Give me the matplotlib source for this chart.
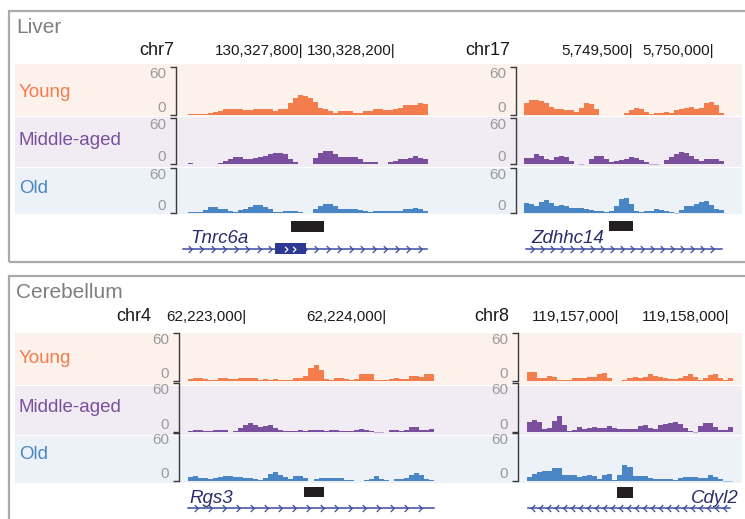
import numpy as np
import matplotlib
matplotlib.use("Agg")
import matplotlib.pyplot as plt
from matplotlib.patches import Rectangle
from matplotlib.path import Path
from matplotlib.transforms import blended_transform_factory

plt.rcParams["font.family"] = ["Liberation Sans", "DejaVu Sans"]

# ---- data -------------------------------------------------------------
ages = ["Young", "Middle-aged", "Old"]

# regions (bp)
chr7_start, chr7_end = 130327296, 130328339
chr17_start, chr17_end = 5748827, 5750062
chr4_start, chr4_end = 62222579, 62224336
chr8_start, chr8_end = 119156164, 119158036

chr7_ticks = [130327800, 130328200]
chr17_ticks = [5749500, 5750000]
chr4_ticks = [62223000, 62224000]
chr8_ticks = [119157000, 119158000]

# coverage (0-60 scale), equal-width bins across each region
liver_chr7_young = [1, 1, 1, 1, 2, 4, 5, 7, 8, 7, 8, 6, 6, 7, 8, 7, 7, 5, 7, 8,
                    15, 21, 25, 24, 21, 16, 9, 8, 5, 3, 5, 5, 5, 3, 3, 5, 5, 7, 7, 6,
                    6, 7, 9, 12, 12, 13, 15, 14]
liver_chr7_middle = [1.5, 0.5, 0.5, 0.5, 0.5, 0.5, 1, 4, 7, 9, 8.5, 6.5, 7, 8, 8.5, 11, 13, 14, 15, 13,
                     7, 2, 0, -0.5, 0, 8, 14, 17, 17, 13, 9, 9, 8.5, 8.5, 6, 3, 2, 2, -0.5, -0.5,
                     2, 4, 7, 7, 8, 11, 8, 7]
liver_chr7_old = [1, 1.7, 1.7, 4.5, 8, 7.5, 6, 5, 3, 1, 4.5, 6, 8, 11, 11, 8, 5, 2, 2, 3.3,
                  3.3, 3.3, 1.7, 0.5, 0.5, 6, 10, 12, 12, 9, 5, 5.5, 5, 5.5, 4, 3, 1.7, 2.5, 2.8, 3.3,
                  3.3, 2.5, 2.5, 5, 6, 6.7, 6, 3]

liver_chr17_young = [15, 18.5, 19, 17.5, 15, 10, 7, 7, 6.7, 6.7, 3.5, 9, 14.5, 13.5, 8, 0.5, 0.5, 0.5, 0.5, 0.5,
                     2, 6, 9, 7.5, 4, 1.5, 3, 3, 4, 3, 6, 7, 9, 10.5, 7.5, 9, 15, 16, 12, 3]
liver_chr17_middle = [8, 8, 12.5, 10, 7, 5, 9, 11, 9.5, 4, 0.5, -0.7, 0, 7, 10, 10, 6, 2.5, 4, 5,
                      7, 9, 8, 5.5, 2, -0.7, -0.7, -0.5, 5, 9.5, 13, 16, 15, 10, 6, 3.5, 6.5, 6.5, 6.5, 4]
liver_chr17_old = [13.5, 12, 9.5, 15, 17, 13, 10, 10.5, 10, 6.7, 6.3, 6.2, 5.5, 4.2, 3, 2.5, 1, 3.3, 9, 19,
                   20, 12, 3, 1.7, 2.5, 3.3, 5, 4.5, 3.3, 1, -1, 4, 9, 10, 12, 14.5, 16, 11, 6, 4]

cereb_chr4_young = [2.2, 3.3, 3.3, 2, 1, 1.5, 3.3, 4, 3, 2, 4, 4, 4, 3.5, 1.5, 2, 1.7, 2.5, 1, 1,
                    1, 3.5, 4, 6, 16, 20, 14, 3, 1.5, 3.3, 3.3, 2, 1.5, 2.5, 9, 9, 9, 1, 1, 1.5,
                    2, 3.3, 2, 3, 6.5, 6.5, 5, 9, 9]
cereb_chr4_middle = [1.5, 2, 2, 1.5, 1.2, 2.8, 2.5, 2, -0.5, 0.8, 5, 8, 11, 8, 6, 7, 8, 5.5, 2.5, 0.8,
                     1, 1.5, 2.5, 1.7, 2, 3, 2, 1.8, 2, 2, 1, 0.8, 0.8, 2, 3.3, 3, 1, -0.7, -0.7, -0.3,
                     2, 2, 1, 3, 6, 6.5, 3, 2, 4]
cereb_chr4_old = [5, 6, 3.5, 3.3, 3, 4, 5.5, 6.3, 6.7, 5, 5, 3.8, 3.3, 2, 1.7, 4, 9, 11, 7, 5,
                  2.5, 6, 6.7, 4, 0, 2.5, 4, 4.2, 4.2, 4.2, 4, 1.5, 0.8, -0.5, 0.5, 1.7, 3, 6, 3, 1.2,
                  -0.5, 2, 3, 3.3, 7, 10, 7, 2, 1.7]

cereb_chr8_young = [11, 11, 3.5, 3.5, 6.5, 4.5, 1.5, 1, 1.5, 3.3, 3.3, 4.2, 5, 5, 8.5, 10, 3.5, 0.5, 0.5, 0.7,
                    4, 4.7, 4.2, 5.5, 9, 6, 5, 4.2, 2.5, 2, 3.3, 6, 8.5, 5, 1.5, 4.2, 8, 8.5, 3.5, 1, 3.5]
cereb_chr8_middle = [12, 15, 12.5, 3.3, 5.5, 13, 19, 8, 1.7, 3, 5.8, 4, 5, 6.7, 5, 5, 7.5, 5, 4, 3.3,
                     4, 3.3, 7, 8.5, 5, 4, 9, 10, 11, 12.5, 10, 5, 1, -0.7, 7, 11.5, 11, 6, 3, 2.5, 6]
cereb_chr8_old = [5, 8.5, 11.5, 12, 13, 16, 16, 7, 8, 7.5, 5.5, 6, 7.5, 6, 3, 7.5, 8.3, 1, 8, 20,
                  18, 6, 6, 6.5, 4, 2, 2.5, 2.5, 2.5, 1, 3.5, 5, 4.5, 4.5, 3.3, 3.5, 7, 4.5, 2.5, -0.7, -0.7]

# genes and peaks (bp)
tnrc6a_span = (130327274, 130328335)
tnrc6a_exon = (130327674, 130327809)
zdhhc14_span = (5748839, 5750049)
rgs3_span = (62222579, 62224336)
cdyl2_span = (119156173, 119158009)
liver_chr7_peak = (130327744, 130327887)
liver_chr17_peak = (5749352, 5749500)
cereb_chr4_peak = (62223408, 62223550)
cereb_chr8_peak = (119156982, 119157128)

# ---- style ------------------------------------------------------------
W, H = 745, 519
track_colors = ["#F47D4E", "#7A4F9E", "#4A86C5"]
neg_colors = ["#F9BCA3", "#BCA8D2", "#A9C6E6"]
band_colors = ["#FDF1EC", "#F1ECF3", "#EDF2F9"]
gene_color = "#3C4A9E"
exon_color = "#2C3894"
name_color = "#2A2D6B"
bracket_color = "#3A3A3A"
tick_label_color = "#9B9B9B"

fig = plt.figure(figsize=(W / 100, H / 100), dpi=100)


def px_axes(x0, y0, x1, y1):
    return fig.add_axes([x0 / W, 1 - y1 / H, (x1 - x0) / W, (y1 - y0) / H])


def px_text(x, y, s, **kw):
    fig.text(x / W, 1 - y / H, s, **kw)


def draw_track(x0, x1, y60, y0, gap, start, end, values, i):
    ax = px_axes(x0, y60, x1, y0)
    ax.set_xlim(start, end)
    ax.set_ylim(0, 60)
    ax.patch.set_visible(False)
    for s in ["top", "right", "bottom"]:
        ax.spines[s].set_visible(False)
    ax.spines["left"].set_position(("outward", gap * 0.72))
    ax.spines["left"].set_color(bracket_color)
    ax.spines["left"].set_linewidth(1.0)
    ax.set_xticks([])
    ax.set_yticks([0, 60])
    ax.set_yticklabels(["0", "60"], color=tick_label_color, fontsize=11)
    ax.tick_params(axis="y", length=4, width=1.0, color=bracket_color, pad=3)
    lab = ax.get_yticklabels()
    lab[0].set_va("bottom")
    lab[1].set_va("top")
    v = np.asarray(values, dtype=float)
    edges = np.linspace(start, end, len(v) + 1)
    ax.stairs(np.clip(v, 0, None), edges, baseline=0, fill=True, color=track_colors[i], lw=0)
    ax.stairs(np.clip(v, None, 0), edges, baseline=0, fill=True, color=neg_colors[i], lw=0,
              clip_on=False)
    return ax


def chevron(strand):
    d = 0.5 if strand == "+" else -0.5
    return Path([(-d, 1), (d, 0), (-d, -1)], [Path.MOVETO, Path.LINETO, Path.LINETO])


def draw_gene(x0, x1, ytop, ybot, start, end, span, strand, step_px, yline, peak, peak_y,
              exon=None):
    ax = px_axes(x0, ytop, x1, ybot)
    ax.set_xlim(start, end)
    ax.set_ylim(ybot, ytop)
    ax.axis("off")
    ax.plot(span, [yline, yline], color=gene_color, lw=1.1, clip_on=False)
    bp_per_px = (end - start) / (x1 - x0)
    marks = np.arange(span[0] + step_px * bp_per_px * 0.6, span[1], step_px * bp_per_px)
    ax.plot(marks, np.full(len(marks), yline), ls="none", marker=chevron(strand), ms=5,
            mfc="none", mec=gene_color, mew=0.9, clip_on=False)
    if exon is not None:
        ax.add_patch(Rectangle((exon[0], yline - 5.5), exon[1] - exon[0], 11,
                               color=exon_color, lw=0, zorder=3))
        inner = np.linspace(exon[0], exon[1], 5)[1:3] + (exon[1] - exon[0]) * 0.12
        ax.plot(inner, np.full(len(inner), yline), ls="none", marker=chevron(strand), ms=4,
                mfc="none", mec="white", mew=0.9, zorder=4)
    ax.add_patch(Rectangle((peak[0], peak_y[0]), peak[1] - peak[0], peak_y[1] - peak_y[0],
                           color="#231F20", lw=0))
    return ax


def coord_labels(ax, ticks, y):
    tr = blended_transform_factory(ax.transData, fig.transFigure)
    for t in ticks:
        ax.text(t, 1 - y / H, f"{t:,}|", transform=tr, ha="right", va="baseline",
                fontsize=11, color="#1A1A1A", clip_on=False)


# ---- panel frames and bands --------------------------------------------
for (top, bot) in [(11, 262), (276, 545)]:
    fig.add_artist(Rectangle((8.5 / W, 1 - bot / H), (760 - 8.5) / W, (bot - top) / H,
                             transform=fig.transFigure, fill=False, ec="#AAAAAA", lw=1.6))

liver_bands = [(64, 116), (116.8, 167), (167.8, 214)]
cereb_bands = [(333, 385), (385.8, 435), (435.8, 483)]
for bands in (liver_bands, cereb_bands):
    for i, (t, b) in enumerate(bands):
        fig.add_artist(Rectangle((15 / W, 1 - b / H), (742 - 15) / W, (b - t) / H,
                                 transform=fig.transFigure, color=band_colors[i], lw=0, zorder=0))

px_text(16, 33, "Liver", fontsize=15, color="#7F7F7F", va="baseline")
px_text(16, 298, "Cerebellum", fontsize=15, color="#7F7F7F", va="baseline")

label_baselines = {"liver": [97, 145, 193], "cereb": [363, 412, 459]}
for key in label_baselines:
    for i, age in enumerate(ages):
        px_text(19, label_baselines[key][i], age, fontsize=13.5, color=track_colors[i],
                va="baseline")

liver_rows = [(67, 115), (118, 164), (168, 213)]
cereb_rows = [(333, 381), (383, 432), (433, 481)]

# ---- Liver, chr7 -----------------------------------------------------------
tracks = [liver_chr7_young, liver_chr7_middle, liver_chr7_old]
for i, vals in enumerate(tracks):
    a = draw_track(188, 428, liver_rows[i][0], liver_rows[i][1], 12, chr7_start, chr7_end, vals, i)
    if i == 0:
        coord_labels(a, chr7_ticks, 55)
px_text(174, 55, "chr7", fontsize=13, ha="right", va="baseline", color="#1A1A1A")
draw_gene(188, 428, 218, 258, chr7_start, chr7_end, tnrc6a_span, "+", 11.5, 249,
          liver_chr7_peak, (221, 232), exon=tnrc6a_exon)
px_text(190, 243, "Tnrc6a", fontsize=13.5, style="italic", color=name_color, va="baseline")

# ---- Liver, chr17 ----------------------------------------------------------
tracks = [liver_chr17_young, liver_chr17_middle, liver_chr17_old]
for i, vals in enumerate(tracks):
    a = draw_track(524, 724, liver_rows[i][0], liver_rows[i][1], 8, chr17_start, chr17_end, vals, i)
    if i == 0:
        coord_labels(a, chr17_ticks, 55)
px_text(510, 55, "chr17", fontsize=13, ha="right", va="baseline", color="#1A1A1A")
draw_gene(524, 724, 218, 258, chr17_start, chr17_end, zdhhc14_span, "+", 10, 249,
          liver_chr17_peak, (221, 231))
px_text(531, 243, "Zdhhc14", fontsize=13.5, style="italic", color=name_color, va="baseline")

# ---- Cerebellum, chr4 ------------------------------------------------------
tracks = [cereb_chr4_young, cereb_chr4_middle, cereb_chr4_old]
for i, vals in enumerate(tracks):
    a = draw_track(188, 434, cereb_rows[i][0], cereb_rows[i][1], 9, chr4_start, chr4_end, vals, i)
    if i == 0:
        coord_labels(a, chr4_ticks, 321)
px_text(151, 321, "chr4", fontsize=13, ha="right", va="baseline", color="#1A1A1A")
draw_gene(188, 434, 484, 519, chr4_start, chr4_end, rgs3_span, "+", 14, 508,
          cereb_chr4_peak, (487, 497))
px_text(189, 503, "Rgs3", fontsize=13.5, style="italic", color=name_color, va="baseline")

# ---- Cerebellum, chr8 ------------------------------------------------------
tracks = [cereb_chr8_young, cereb_chr8_middle, cereb_chr8_old]
for i, vals in enumerate(tracks):
    a = draw_track(527, 733, cereb_rows[i][0], cereb_rows[i][1], 9, chr8_start, chr8_end, vals, i)
    if i == 0:
        coord_labels(a, chr8_ticks, 321)
px_text(509, 321, "chr8", fontsize=13, ha="right", va="baseline", color="#1A1A1A")
draw_gene(527, 733, 484, 519, chr8_start, chr8_end, cdyl2_span, "-", 8, 508,
          cereb_chr8_peak, (487, 498))
px_text(739, 503, "Cdyl2", fontsize=13.5, style="italic", color=name_color, ha="right",
        va="baseline")

fig.savefig("out.png", dpi=100)
